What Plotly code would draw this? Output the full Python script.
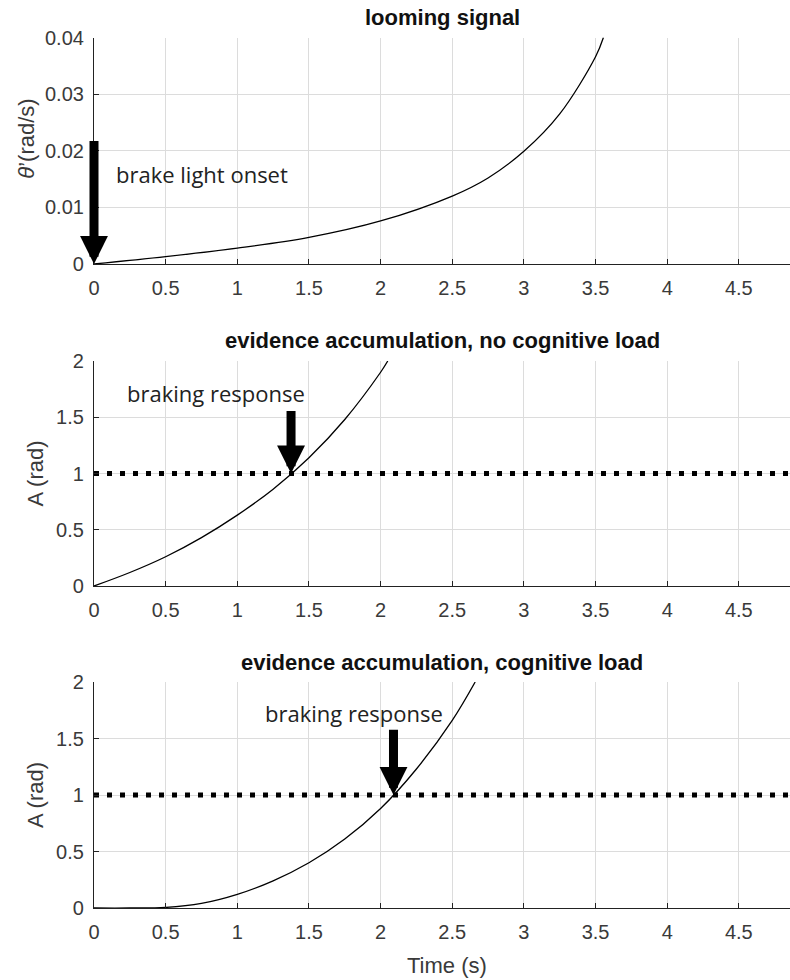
import plotly.graph_objects as go

# ---------------- data ----------------
t_loom = [0, 0.5, 1.0, 1.5, 2.0, 2.5, 2.75, 3.0, 3.25, 3.5, 3.555]
loom = [0, 0.0013, 0.0028, 0.0047, 0.0076, 0.0120, 0.0152, 0.0199, 0.0265, 0.0366, 0.0400]

t_noload = [0, 0.25, 0.5, 0.75, 1.0, 1.25, 1.5, 1.75, 2.0, 2.05]
a_noload = [0, 0.12, 0.26, 0.43, 0.63, 0.86, 1.14, 1.48, 1.90, 2.0]

t_load = [0, 0.25, 0.5, 0.75, 1.0, 1.25, 1.5, 1.75, 2.0, 2.25, 2.5, 2.66]
a_load = [0, 0, 0.005, 0.04, 0.12, 0.24, 0.40, 0.61, 0.88, 1.23, 1.66, 2.0]

threshold = 1.0
x_max = 4.857
x_ticks = [0, 0.5, 1, 1.5, 2, 2.5, 3, 3.5, 4, 4.5]
x_ticklabels = ["0", "0.5", "1", "1.5", "2", "2.5", "3", "3.5", "4", "4.5"]
y1_ticks = [0, 0.01, 0.02, 0.03, 0.04]
y1_ticklabels = ["0", "0.01", "0.02", "0.03", "0.04"]
y23_ticks = [0, 0.5, 1, 1.5, 2]
y23_ticklabels = ["0", "0.5", "1", "1.5", "2"]

titles = ["looming signal",
          "evidence accumulation, no cognitive load",
          "evidence accumulation, cognitive load"]
ylabels = ["<i>θ</i>’(rad/s)", "A (rad)", "A (rad)"]
xlabel = "Time (s)"

onset_t, onset_top = 0.0, 0.022
resp1_t, resp1_top = 1.375, 1.57
resp2_t, resp2_top = 2.09, 1.59

# ---------------- layout geometry ----------------
W, H = 790, 980
def ydom(top_px, bot_px):
    return [1 - bot_px / H, 1 - top_px / H]

dom = [ydom(37.5, 264), ydom(361, 586), ydom(682, 908)]
xdom = [94 / W, 1.0]

SANS = "Liberation Sans, Arial, sans-serif"
TICKF = dict(family=SANS, size=20, color="#3a3a3a")
LABF = dict(family=SANS, size=22, color="#3a3a3a")
ANNF = dict(family="Open Sans, sans-serif", size=22, color="#222222")
TITF = dict(family=SANS, size=22, color="#111111")

fig = go.Figure()

series = [(t_loom, loom), (t_noload, a_noload), (t_load, a_load)]
for i, (tx, yy) in enumerate(series):
    xa = "x" if i == 0 else f"x{i+1}"
    ya = "y" if i == 0 else f"y{i+1}"
    fig.add_trace(go.Scatter(x=tx, y=yy, mode="lines",
                             line=dict(color="black", width=1.3, shape="spline", smoothing=1.0),
                             xaxis=xa, yaxis=ya, showlegend=False, hoverinfo="skip"))
    if i > 0:
        fig.add_trace(go.Scatter(x=[0, x_max], y=[threshold, threshold], mode="lines",
                                 line=dict(color="black", width=5, dash="5px,8px"),
                                 xaxis=xa, yaxis=ya, showlegend=False, hoverinfo="skip"))

yranges = [[0, 0.04], [0, 2], [0, 2]]
ytv = [(y1_ticks, y1_ticklabels), (y23_ticks, y23_ticklabels), (y23_ticks, y23_ticklabels)]
for i in range(3):
    sfx = "" if i == 0 else str(i + 1)
    fig.layout["xaxis" + sfx] = dict(
        domain=xdom, range=[0, x_max], anchor="y" + sfx, automargin=False,
        tickvals=x_ticks, ticktext=x_ticklabels, ticks="inside", ticklen=5, tickcolor="#222",
        ticklabelstandoff=6,
        showline=True, linecolor="#222", linewidth=1.2, mirror=False,
        showgrid=True, gridcolor="#dcdcdc", gridwidth=1, zeroline=False,
        tickfont=TICKF, fixedrange=True)
    fig.layout["yaxis" + sfx] = dict(
        domain=dom[i], range=yranges[i], anchor="x" + sfx, automargin=False,
        tickvals=ytv[i][0], ticktext=ytv[i][1], ticks="inside", ticklen=5, tickcolor="#222",
        ticklabelstandoff=5,
        showline=True, linecolor="#222", linewidth=1.2,
        showgrid=True, gridcolor="#dcdcdc", gridwidth=1, zeroline=False,
        tickfont=TICKF, fixedrange=True)

annotations = []
for i in range(3):
    top = dom[i][1]
    annotations.append(dict(text="<b>" + titles[i] + "</b>", xref="paper", yref="paper",
                            x=(xdom[0] + xdom[1]) / 2, y=top + 20 / H, xanchor="center", yanchor="middle",
                            showarrow=False, font=TITF))
    annotations.append(dict(text=ylabels[i], xref="paper", yref="paper", textangle=-90,
                            x=(27 if i == 0 else 35) / W, y=(dom[i][0] + dom[i][1]) / 2 + (0 if i else 12 / H),
                            xanchor="center", yanchor="middle", showarrow=False, font=LABF))
annotations.append(dict(text=xlabel, xref="paper", yref="paper", x=447 / W, y=1 - 965 / H,
                        xanchor="center", yanchor="middle", showarrow=False, font=LABF))

arrow_common = dict(showarrow=True, arrowhead=2, arrowsize=0.62, arrowwidth=9, arrowcolor="black",
                    text="", standoff=0, startstandoff=0)
annotations.append(dict(x=onset_t, y=0, ax=onset_t, ay=onset_top, xref="x", yref="y", axref="x", ayref="y", **arrow_common))
annotations.append(dict(x=resp1_t, y=threshold, ax=resp1_t, ay=resp1_top, xref="x2", yref="y2", axref="x2", ayref="y2", **arrow_common))
annotations.append(dict(x=resp2_t, y=threshold, ax=resp2_t, ay=resp2_top, xref="x3", yref="y3", axref="x3", ayref="y3", **arrow_common))

annotations.append(dict(text="brake light onset", x=0.14, y=0.0159, xref="x", yref="y",
                        xanchor="left", yanchor="middle", showarrow=False, font=ANNF))
annotations.append(dict(text="braking response", x=0.215, y=1.72, xref="x2", yref="y2",
                        xanchor="left", yanchor="middle", showarrow=False, font=ANNF))
annotations.append(dict(text="braking response", x=1.18, y=1.73, xref="x3", yref="y3",
                        xanchor="left", yanchor="middle", showarrow=False, font=ANNF))

fig.update_layout(width=W, height=H, margin=dict(l=0, r=0, t=0, b=0, autoexpand=False),
                  paper_bgcolor="white", plot_bgcolor="white", annotations=annotations)

fig.write_html("out.html", config={"displayModeBar": False},
               post_script="document.body.style.margin='0';document.body.style.overflow='hidden';")
